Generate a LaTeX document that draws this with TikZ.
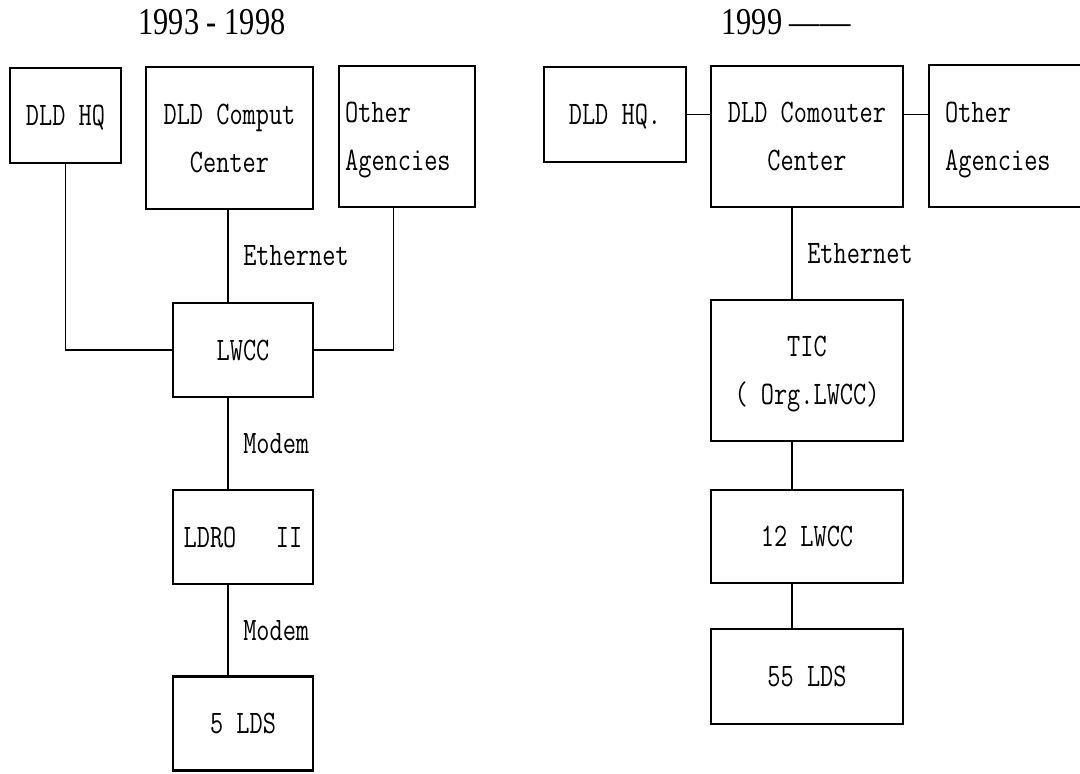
\documentclass[tikz,border=0pt]{standalone}
\usepackage{fontspec}
\newfontfamily\boxfont{Latin Modern Mono}[FakeStretch=0.78]
\newfontfamily\yearfont{Liberation Serif}[FakeStretch=0.8]

\begin{document}
\begin{tikzpicture}[x=0.5pt, y=-0.5pt,
    box/.style={draw, rectangle, line width=1.2pt, inner sep=0pt, align=center, text depth=0pt,
                font=\boxfont\fontsize{16.4}{24}\selectfont},
    link/.style={line width=0.6pt},
    lbl/.style={font=\boxfont\fontsize{16.4}{24}\selectfont},
    year/.style={font=\yearfont\fontsize{19}{22}\selectfont}]
    \useasboundingbox (0,0) rectangle (1080,773);

    % 1993 - 1998
    \node[year] (yrA) at (212,22) {1993 - 1998};
    \node[box, minimum width=55.5pt, minimum height=47.5pt] (hqA) at (65.5,115.5) {DLD HQ};
    \node[box, minimum width=83.5pt, minimum height=71pt] (ccA) at (229.5,138) {DLD Comput\\Center};
    \node[box, anchor=west, inner xsep=3pt, text width=62pt, text depth=24pt, minimum height=70.5pt, align=left] (oaA) at (338,136.5) {Other\\Agencies};
    \node[box, minimum width=70pt, minimum height=47pt] (lwA) at (243,350) {LWCC};
    \node[box, minimum width=70pt, minimum height=47pt] (ldroA) at (243,537) {LDRO~~~II};
    \node[box, minimum width=70pt, minimum height=47pt] (ldsA) at (243,723.5) {5 LDS};
    \coordinate (colA) at (228,0);

    \draw[link] (hqA.south) |- (lwA.west);
    \draw[link] ([xshift=-6.75pt]oaA.south) |- (lwA.east);
    \draw[link] (ccA.south -| colA) -- node[lbl, right=4pt] (ethA) {Ethernet} (lwA.north -| colA);
    \draw[link] (lwA.south -| colA) -- node[lbl, right=4pt] (modA) {Modem} (ldroA.north -| colA);
    \draw[link] (ldroA.south -| colA) -- node[lbl, right=4pt] (modB) {Modem} (ldsA.north -| colA);

    % 1999 --
    \node[year] (yrB) at (786,22) {1999 ——};
    \node[box, minimum width=71pt, minimum height=47.5pt] (hqB) at (615,114.5) {DLD HQ.};
    \node[box, minimum width=96pt, minimum height=70.5pt] (ccB) at (807,136.5) {DLD Comouter\\Center};
    \node[box, anchor=west, inner xsep=8pt, text width=90pt, text depth=24pt, minimum height=71pt, align=left] (oaB) at (928,136) {Other\\Agencies};
    \node[box, minimum width=96pt, minimum height=70.5pt] (tic) at (807,370.5) {TIC\\( Org.LWCC)};
    \node[box, minimum width=96pt, minimum height=46.5pt] (lwB) at (807,536.5) {12 LWCC};
    \node[box, minimum width=96pt, minimum height=47.5pt] (ldsB) at (807,676.5) {55 LDS};
    \coordinate (colB) at (792,0);

    \draw[link] (hqB.east) -- (hqB.east -| ccB.west);
    \draw[link] (hqB.east -| ccB.east) -- (hqB.east -| oaB.west);
    \draw[link] (ccB.south -| colB) -- node[lbl, right=4pt] (ethB) {Ethernet} (tic.north -| colB);
    \draw[link] (tic.south -| colB) -- (lwB.north -| colB);
    \draw[link] (lwB.south -| colB) -- (ldsB.north -| colB);
\end{tikzpicture}
\end{document}
